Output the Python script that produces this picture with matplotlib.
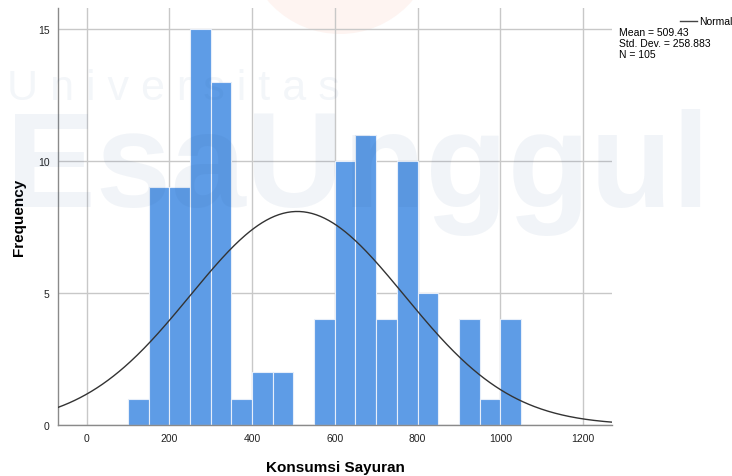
import numpy as np
import matplotlib.pyplot as plt
from matplotlib.patches import Ellipse

# histogram bins (width 50) and counts
bin_edges = [100, 150, 200, 250, 300, 350, 400, 450, 500, 550, 600,
             650, 700, 750, 800, 850, 900, 950, 1000, 1050]
counts = [1, 9, 9, 15, 13, 1, 2, 2, 0, 4, 10, 11, 4, 10, 5, 0, 4, 1, 4]

mean = 509.43
std = 258.883
n = 105

x_ticks = [0, 200, 400, 600, 800, 1000, 1200]
y_ticks = [0, 5, 10, 15]

plt.rcParams['font.family'] = ['Liberation Sans', 'DejaVu Sans']

W, H = 732, 477
fig = plt.figure(figsize=(W / 100, H / 100), dpi=100)
fig.patch.set_facecolor('white')

# faint logo blob behind the chart
fig.patches.append(Ellipse((340 / W, 1 + 60 / H), 190 / W, 190 / H,
                           transform=fig.transFigure, facecolor='#fef4f1',
                           edgecolor='none', zorder=-1))

ax = fig.add_axes([58 / W, 1 - 426 / H, 554 / W, 417 / H])
ax.patch.set_alpha(0)

lefts = bin_edges[:-1]
widths = np.diff(bin_edges)
ax.bar(lefts, counts, width=widths, align='edge', color='#5e9ce6',
       edgecolor='#e6eefa', linewidth=0.8, zorder=2)

xs = np.linspace(-69, 1270, 400)
pdf = n * 50 / (std * np.sqrt(2 * np.pi)) * np.exp(-0.5 * ((xs - mean) / std) ** 2)
ax.plot(xs, pdf, color='#333333', linewidth=1.0, zorder=3)

ax.set_xlim(-69, 1270)
ax.set_ylim(0, 15.8)
ax.set_xticks(x_ticks)
ax.set_yticks(y_ticks)
ax.grid(True, color='#c8c8c8', linewidth=1.0, zorder=1)
ax.set_axisbelow(True)
ax.tick_params(length=0, labelsize=7.5, colors='#222222', pad=6)

for side in ['top', 'right']:
    ax.spines[side].set_visible(False)
for side in ['left', 'bottom']:
    ax.spines[side].set_color('#8a8a8a')
    ax.spines[side].set_linewidth(1.0)

ax.set_xlabel("Konsumsi Sayuran", fontsize=11, fontweight='bold', labelpad=12)
ax.set_ylabel("Frequency", fontsize=11, fontweight='bold', labelpad=9)

# watermark text, translucent over the chart
fig.text(7 / W, 1 - 100 / H, "U n i v e r s i t a s", fontsize=31,
         color='#1f4f8f', alpha=0.05, ha='left', va='baseline', zorder=5)
fig.text(6 / W, 1 - 207 / H, "EsaUnggul", fontsize=97, fontweight='bold',
         color='#1f4f8f', alpha=0.06, ha='left', va='baseline', zorder=5)

# legend and statistics box
fig.add_artist(plt.Line2D([680 / W, 697 / W], [1 - 22 / H, 1 - 22 / H],
                          color='#444444', linewidth=1.0))
fig.text(699 / W, 1 - 22 / H, "Normal", fontsize=7.5, ha='left', va='center')
stats = [f"Mean = {mean:.2f}", f"Std. Dev. = {std:.3f}", f"N = {n}"]
for i, line in enumerate(stats):
    fig.text(619 / W, 1 - (33 + 11 * i) / H, line, fontsize=7.5,
             ha='left', va='center')

fig.savefig("out.png", dpi=100)
